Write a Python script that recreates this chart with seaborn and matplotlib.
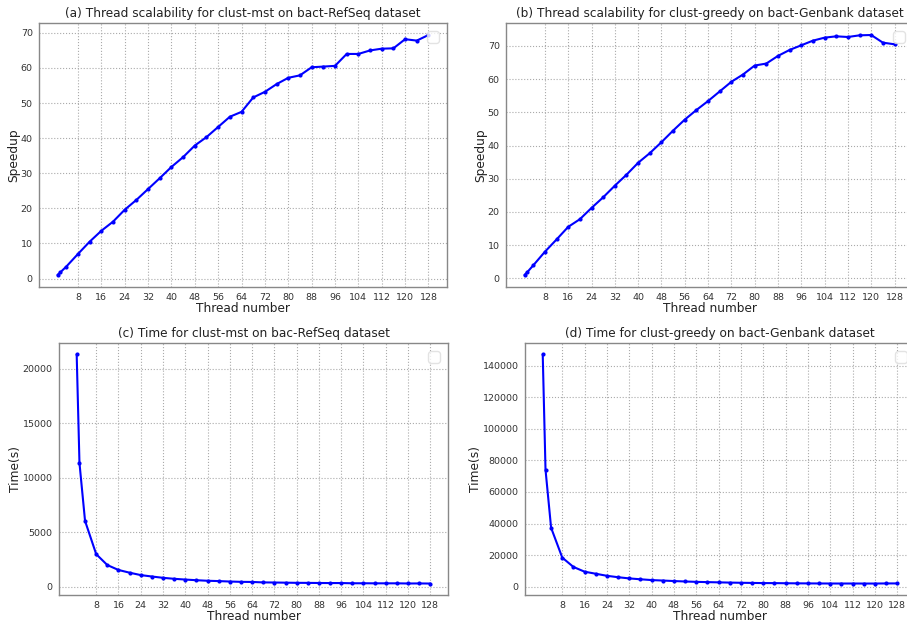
import matplotlib
matplotlib.use("Agg")
import matplotlib.pyplot as plt
import seaborn as sns
import pandas as pd

threads = [1, 2, 4, 8, 12, 16, 20, 24, 28, 32, 36, 40, 44, 48, 52, 56, 60, 64,
           68, 72, 76, 80, 84, 88, 92, 96, 100, 104, 108, 112, 116, 120, 124, 128]

speedup_mst = [1.0, 1.8, 3.4, 7.0, 10.5, 13.6, 16.2, 19.6, 22.4, 25.5, 28.6, 31.8,
               34.6, 37.9, 40.3, 43.2, 46.1, 47.5, 51.6, 53.2, 55.4, 57.2, 57.9,
               60.2, 60.4, 60.6, 64.0, 64.0, 65.0, 65.5, 65.6, 68.2, 67.8, 69.4]

speedup_greedy = [1.0, 1.9, 3.9, 8.0, 11.7, 15.5, 17.8, 21.2, 24.4, 27.9, 31.2, 34.8,
                  37.7, 41.0, 44.5, 47.8, 50.7, 53.4, 56.3, 59.2, 61.4, 64.1, 64.7,
                  67.0, 68.8, 70.2, 71.6, 72.5, 72.9, 72.7, 73.2, 73.3, 71.0, 70.5]

time_mst = [21300, 11350, 6050, 3000, 2000, 1550, 1300, 1080, 950, 830, 740, 670,
            610, 560, 530, 490, 460, 450, 410, 400, 385, 370, 365, 355, 350, 350,
            330, 330, 325, 325, 325, 310, 315, 305]

time_greedy = [147000, 74000, 37300, 18400, 12500, 9500, 8200, 6900, 6000, 5250,
               4700, 4200, 3900, 3580, 3300, 3070, 2900, 2750, 2600, 2480, 2390,
               2290, 2270, 2190, 2130, 2090, 2050, 2020, 2010, 2020, 2000, 2000,
               2070, 2080]

xticks = list(range(8, 129, 8))

titles = [
    "(a) Thread scalability for clust-mst on bact-RefSeq dataset",
    "(b) Thread scalability for clust-greedy on bact-Genbank dataset",
    "(c) Time for clust-mst on bac-RefSeq dataset",
    "(d) Time for clust-greedy on bact-Genbank dataset",
]
ylabels = ["Speedup", "Speedup", "Time(s)", "Time(s)"]
series = [speedup_mst, speedup_greedy, time_mst, time_greedy]

sns.set_theme(style="white")
plt.rcParams["font.family"] = ["DejaVu Sans"]

W, H = 907, 622
fig = plt.figure(figsize=(W / 100, H / 100), dpi=100)
fig.patch.set_facecolor("white")

# axes boxes in pixels: left, top, right, bottom
boxes = [
    (39, 23, 447, 287),
    (506, 23, 913, 287),
    (59, 343, 448, 595),
    (525, 343, 915, 595),
]

for box, title, ylab, vals in zip(boxes, titles, ylabels, series):
    l, t, r, b = box
    ax = fig.add_axes([l / W, 1 - b / H, (r - l) / W, (b - t) / H])
    df = pd.DataFrame({"threads": threads, "value": vals})
    sns.lineplot(data=df, x="threads", y="value", ax=ax, color="blue",
                 marker="o", markersize=3, markeredgewidth=0, linewidth=1.5)
    ax.set_xticks(xticks)
    ax.margins(x=0.05, y=0.05)
    ax.grid(True, linestyle=":", color="#aaaaaa", linewidth=0.8)
    for s in ax.spines.values():
        s.set_color("#888888")
        s.set_linewidth(1.0)
    ax.tick_params(axis="both", labelsize=6.8, labelcolor="#333333", length=3,
                   width=0.6, pad=1.5, color="#888888")
    ax.set_title(title, fontsize=8.7, color="#222222", pad=4)
    ax.set_xlabel("Thread number", fontsize=8.7, color="#222222", labelpad=-0.5)
    ax.set_ylabel(ylab, fontsize=8.8, color="#222222", labelpad=0.5)
    leg = ax.legend(handles=[], loc="upper right", frameon=True)
    leg.get_frame().set_edgecolor("#dddddd")

fig.savefig("out.png", dpi=100, facecolor="white")
